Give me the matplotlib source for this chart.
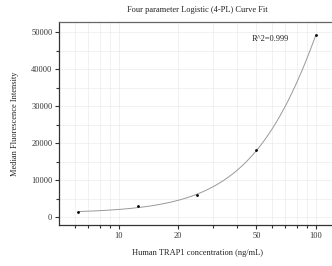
import numpy as np
import matplotlib
matplotlib.use("Agg")
import matplotlib.pyplot as plt
from matplotlib.ticker import FixedLocator, FixedFormatter, MultipleLocator, NullFormatter

plt.rcParams['font.family'] = ['Liberation Serif', 'DejaVu Serif']

# data
conc = [6.25, 12.5, 25, 50, 100]
mfi = [1350, 2970, 6100, 18090, 49140]
x_major = [10, 20, 50, 100]
x_major_labels = ['10', '20', '50', '100']
x_minor = [6, 7, 8, 9, 30, 40, 60, 70, 80, 90]
y_major = [0, 10000, 20000, 30000, 40000, 50000]
r2_text = "R^2=0.999"
title = "Four parameter Logistic (4-PL) Curve Fit"
xlabel = "Human TRAP1 concentration (ng/mL)"
ylabel = "Median Fluorescence Intensity"

x = np.array(conc, float)
y = np.array(mfi, float)

# 4PL fit: grid over b, c; linear least squares for a, d
best = None
for b in np.linspace(0.5, 4, 141):
    for c in np.logspace(1, 4, 301):
        g = 1.0 / (1.0 + (x / c) ** b)
        A = np.column_stack([g, 1 - g])
        coef, res, *_ = np.linalg.lstsq(A, y, rcond=None)
        err = np.sum((A @ coef - y) ** 2)
        if best is None or err < best[0]:
            best = (err, b, c, coef)
_, b, c, (a, d) = best
xf = np.logspace(np.log10(x.min()), np.log10(x.max()), 300)
yf = d + (a - d) / (1 + (xf / c) ** b)

fig = plt.figure(figsize=(3.32, 2.66), dpi=100)
ax = fig.add_axes([0.1786, 0.155, 0.83, 0.763])
ax.set_xscale('log')
ax.set_xlim(5, 125)
ax.set_ylim(-2000, 52800)

ax.plot(xf, yf, color='#999999', lw=0.7, zorder=2)
ax.scatter(x, y, s=4, color='black', zorder=3, linewidths=0)

ax.xaxis.set_major_locator(FixedLocator(x_major))
ax.xaxis.set_major_formatter(FixedFormatter(x_major_labels))
ax.xaxis.set_minor_locator(FixedLocator(x_minor))
ax.xaxis.set_minor_formatter(NullFormatter())
ax.yaxis.set_major_locator(FixedLocator(y_major))
ax.yaxis.set_minor_locator(MultipleLocator(5000))

ax.grid(True, which='both', color='#ebebeb', lw=0.5, zorder=0)
ax.set_axisbelow(True)

ax.tick_params(which='major', length=3, width=0.8, labelsize=6, colors='#333333', pad=2)
ax.tick_params(which='minor', length=2, width=0.8, colors='#333333')
for lab in ax.get_xticklabels() + ax.get_yticklabels():
    lab.set_color('#333333')

for s in ['left', 'bottom']:
    ax.spines[s].set_color('#333333')
    ax.spines[s].set_linewidth(0.9)
ax.spines['top'].set_color('#666666')
ax.spines['top'].set_linewidth(0.9)
ax.spines['right'].set_visible(False)

ax.set_title(title, fontsize=6, color='#222222', pad=7)
ax.set_xlabel(xlabel, fontsize=6, color='#222222', labelpad=7)
ax.set_ylabel(ylabel, fontsize=6, color='#222222', labelpad=9)
ax.text(0.697, 0.915, r2_text, transform=ax.transAxes, fontsize=6, color='#222222', va='center')

fig.savefig('out.png', dpi=100)
